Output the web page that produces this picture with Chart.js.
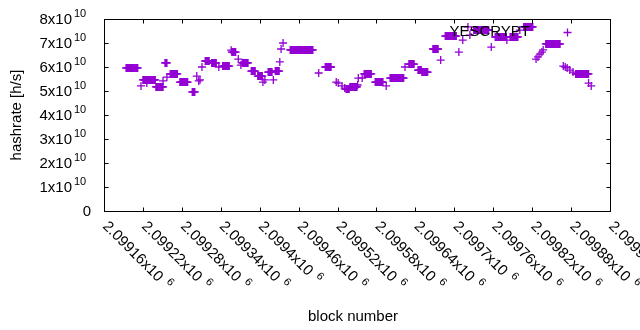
<!DOCTYPE html>
<html>
<head>
<meta charset="utf-8">
<script src="https://cdn.jsdelivr.net/npm/chart.js@4.4.1/dist/chart.umd.min.js"></script>
<style>
  html, body { margin: 0; padding: 0; background: #fff; }
  canvas { display: block; }
</style>
</head>
<body>
<canvas id="hashChart" width="640" height="330"></canvas>
<script>
// runs of consecutive blocks that share one hashrate value
const runStart = [2099194, 2099220, 2099240, 2099254, 2099262, 2099277, 2099296, 2099316, 2099326, 2099343,
  2099357, 2099373, 2099387, 2099397, 2099413, 2099424, 2099447, 2099501, 2099533, 2099539,
  2099561, 2099578, 2099601, 2099630, 2099644, 2099650, 2099667, 2099686, 2099730, 2099763,
  2099786, 2099807, 2099841, 2099887];
const runEnd = [2099212, 2099239, 2099251, 2099257, 2099273, 2099289, 2099300, 2099322, 2099333, 2099353,
  2099363, 2099382, 2099393, 2099404, 2099419, 2099430, 2099482, 2099510, 2099538, 2099550,
  2099572, 2099590, 2099622, 2099638, 2099649, 2099659, 2099675, 2099703, 2099753, 2099780,
  2099798, 2099821, 2099863, 2099907];
const runRate = [5.96e10, 5.46e10, 5.17e10, 6.17e10, 5.71e10, 5.37e10, 4.96e10, 6.25e10, 6.17e10, 6.04e10,
  6.62e10, 6.17e10, 5.83e10, 5.62e10, 5.79e10, 5.83e10, 6.71e10, 6.0e10, 5.08e10, 5.17e10,
  5.71e10, 5.37e10, 5.54e10, 6.12e10, 5.87e10, 5.79e10, 6.75e10, 7.29e10, 7.54e10, 7.25e10,
  7.25e10, 7.67e10, 6.96e10, 5.71e10];

// single blocks
const dotBlock = [2099217, 2099226, 2099251, 2099257, 2099303, 2099306, 2099308, 2099311, 2099337, 2099356,
  2099367, 2099371, 2099405, 2099408, 2099421, 2099431, 2099433, 2099436, 2099491, 2099518,
  2099521, 2099527, 2099531, 2099551, 2099552, 2099558, 2099595, 2099624, 2099679, 2099707,
  2099713, 2099721, 2099724, 2099757, 2099781, 2099801, 2099826, 2099829, 2099832, 2099835,
  2099837, 2099868, 2099871, 2099874, 2099878, 2099883, 2099907, 2099911];
const dotRate = [5.21e10, 5.33e10, 5.42e10, 5.58e10, 5.62e10, 5.42e10, 5.46e10, 6.0e10, 6.0e10, 6.70e10,
  6.33e10, 6.08e10, 5.37e10, 5.46e10, 5.46e10, 6.21e10, 6.75e10, 7.0e10, 5.75e10, 5.37e10,
  5.33e10, 5.21e10, 5.12e10, 5.25e10, 5.54e10, 5.54e10, 5.21e10, 6.0e10, 6.29e10, 6.62e10,
  7.12e10, 7.67e10, 7.33e10, 6.83e10, 7.12e10, 7.54e10, 6.33e10, 6.42e10, 6.54e10, 6.62e10,
  6.71e10, 6.04e10, 6.0e10, 5.96e10, 5.87e10, 5.79e10, 5.33e10, 5.21e10];

const xTickBlocks = [2099160, 2099220, 2099280, 2099340, 2099400, 2099460, 2099520, 2099580, 2099640, 2099700,
  2099760, 2099820, 2099880, 2099940];
const xTickLabels = ['2.09916x10^6', '2.09922x10^6', '2.09928x10^6', '2.09934x10^6', '2.0994x10^6', '2.09946x10^6',
  '2.09952x10^6', '2.09958x10^6', '2.09964x10^6', '2.0997x10^6', '2.09976x10^6', '2.09982x10^6',
  '2.09988x10^6', '2.09994x10^6'];
const yTickValues = [0, 1e10, 2e10, 3e10, 4e10, 5e10, 6e10, 7e10, 8e10];
const yTickLabels = ['0', '1x10^10', '2x10^10', '3x10^10', '4x10^10', '5x10^10', '6x10^10', '7x10^10', '8x10^10'];

const FONT = "'Liberation Sans', Arial, sans-serif";
const PURPLE = '#9400d3';

const points = [];
runStart.forEach((start, i) => {
  for (let b = start; b <= runEnd[i]; b++) points.push({ x: b, y: runRate[i] });
});
dotBlock.forEach((b, i) => points.push({ x: b, y: dotRate[i] }));
points.sort((a, b) => a.x - b.x);

function drawCross(ctx, x, y, r) {
  ctx.beginPath();
  ctx.moveTo(x - r, y); ctx.lineTo(x + r, y);
  ctx.moveTo(x, y - r); ctx.lineTo(x, y + r);
  ctx.stroke();
}

const gnuplotFrame = {
  id: 'gnuplotFrame',
  afterDraw(chart) {
    const ctx = chart.ctx;
    const area = chart.chartArea;
    const xs = chart.scales.x;
    const ys = chart.scales.y;
    const L = Math.round(area.left) + 0.5, R = Math.round(area.right) + 0.5;
    const T = Math.round(area.top) + 0.5, B = Math.round(area.bottom) + 0.5;
    ctx.save();
    ctx.strokeStyle = '#000';
    ctx.lineWidth = 1;
    ctx.strokeRect(L, T, R - L, B - T);

    ctx.beginPath();
    xTickBlocks.forEach(v => {
      const px = Math.round(xs.getPixelForValue(v)) + 0.5;
      ctx.moveTo(px, B); ctx.lineTo(px, B - 4);
      ctx.moveTo(px, T); ctx.lineTo(px, T + 4);
    });
    yTickValues.forEach(v => {
      const py = Math.round(ys.getPixelForValue(v)) + 0.5;
      ctx.moveTo(L, py); ctx.lineTo(L + 4, py);
      ctx.moveTo(R, py); ctx.lineTo(R - 4, py);
    });
    ctx.stroke();

    ctx.fillStyle = '#000';
    // y tick labels
    yTickLabels.forEach((label, i) => {
      const py = ys.getPixelForValue(yTickValues[i]);
      const parts = label.split('^');
      ctx.textBaseline = 'middle';
      if (parts.length === 1) {
        ctx.font = '15px ' + FONT;
        ctx.textAlign = 'right';
        ctx.fillText(parts[0], area.left - 13, py + 1);
      } else {
        ctx.font = '15px ' + FONT;
        ctx.textAlign = 'right';
        ctx.fillText(parts[0], area.left - 32, py + 1);
        ctx.font = '11px ' + FONT;
        ctx.textAlign = 'left';
        ctx.fillText(parts[1], area.left - 30, py - 5);
      }
    });

    // x tick labels, rotated
    xTickLabels.forEach((label, i) => {
      const px = xs.getPixelForValue(xTickBlocks[i]);
      const parts = label.split('^');
      ctx.save();
      ctx.translate(px + 1, area.bottom + 13);
      ctx.rotate(Math.PI / 4);
      ctx.textAlign = 'left';
      ctx.textBaseline = 'middle';
      ctx.font = '15px ' + FONT;
      ctx.fillText(parts[0], 0, 0);
      const w = ctx.measureText(parts[0]).width;
      ctx.font = '11px ' + FONT;
      ctx.fillText(parts[1], w + 6, -5);
      ctx.restore();
    });

    // axis titles
    ctx.font = '15px ' + FONT;
    ctx.textAlign = 'center';
    ctx.textBaseline = 'alphabetic';
    ctx.fillText('block number', 353, 321);
    ctx.save();
    ctx.translate(21, (area.top + area.bottom) / 2);
    ctx.rotate(-Math.PI / 2);
    ctx.fillText('hashrate [h/s]', 0, 0);
    ctx.restore();

    // key
    ctx.textAlign = 'right';
    ctx.textBaseline = 'middle';
    ctx.fillText(chart.data.datasets[0].label, 530, 32);
    ctx.strokeStyle = PURPLE;
    ctx.lineWidth = 1.3;
    drawCross(ctx, 567.5, 32.5, 4);
    ctx.restore();
  }
};

new Chart(document.getElementById('hashChart'), {
  type: 'scatter',
  data: {
    datasets: [{
      label: 'YESCRYPT',
      data: points,
      pointStyle: 'cross',
      pointRadius: 4,
      pointBorderWidth: 1.3,
      borderColor: PURPLE,
      backgroundColor: PURPLE,
      showLine: false
    }]
  },
  options: {
    responsive: false,
    animation: false,
    events: [],
    layout: { padding: { left: 104, right: 30, top: 19, bottom: 119 } },
    scales: {
      x: { type: 'linear', min: 2099160, max: 2099940, display: false },
      y: { type: 'linear', min: 0, max: 8e10, display: false }
    },
    plugins: {
      legend: { display: false },
      tooltip: { enabled: false }
    }
  },
  plugins: [gnuplotFrame]
});
</script>
</body>
</html>
